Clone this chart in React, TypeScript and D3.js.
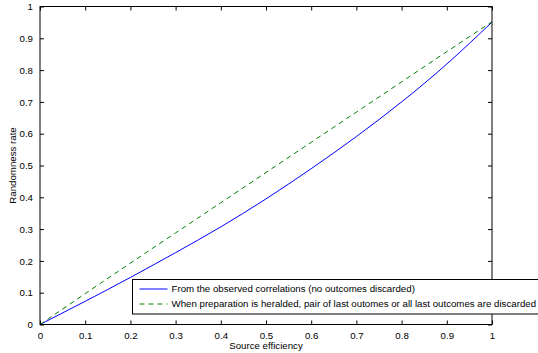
import { useEffect, useRef } from 'react';
import { select, scaleLinear, line, axisBottom, axisLeft, axisTop, axisRight, curveNatural } from 'd3';

// values
const xTicks = [0, 0.1, 0.2, 0.3, 0.4, 0.5, 0.6, 0.7, 0.8, 0.9, 1];
const yTicks = [0, 0.1, 0.2, 0.3, 0.4, 0.5, 0.6, 0.7, 0.8, 0.9, 1];
const efficiency = [0, 0.1, 0.2, 0.3, 0.4, 0.5, 0.6, 0.7, 0.8, 0.9, 1];
const observedRate = [0, 0.073, 0.148, 0.226, 0.307, 0.395, 0.49, 0.591, 0.7, 0.819, 0.951];
const heraldedRate = [0, 0.097, 0.193, 0.288, 0.383, 0.478, 0.573, 0.668, 0.763, 0.858, 0.952];
const seriesNames = [
  'From the observed correlations (no outcomes discarded)',
  'When preparation is heralded, pair of last outomes or all last outcomes are discarded',
];

const W = 538;
const H = 353;
const margin = { top: 6.5, right: 46, left: 40, bottom: 28.5 };
const font = 'Liberation Sans, Arial, sans-serif';
const fs = 9.7;

export default function App() {
  const svgRef = useRef<SVGSVGElement>(null);

  useEffect(() => {
    if (!svgRef.current) return;
    const svg = select(svgRef.current);
    svg.selectAll('*').remove();

    const x = scaleLinear().domain([0, 1]).range([margin.left, W - margin.right]);
    const y = scaleLinear().domain([0, 1]).range([H - margin.bottom, margin.top]);
    const x0 = margin.left;
    const x1 = W - margin.right;
    const y0 = H - margin.bottom;
    const y1 = margin.top;

    svg.append('rect').attr('width', W).attr('height', H).attr('fill', '#fff');

    // curves
    const pts = (vals: number[]) => efficiency.map((e, i) => [e, vals[i]] as [number, number]);
    const gen = line<[number, number]>()
      .x((d) => x(d[0]))
      .y((d) => y(d[1]))
      .curve(curveNatural);

    svg.append('path')
      .attr('d', gen(pts(observedRate)))
      .attr('fill', 'none')
      .attr('stroke', '#0000ff')
      .attr('stroke-width', 1);
    svg.append('path')
      .attr('d', gen(pts(heraldedRate)))
      .attr('fill', 'none')
      .attr('stroke', '#008000')
      .attr('stroke-width', 1)
      .attr('stroke-dasharray', '5 4');

    // box axes, inward ticks
    const styleAxis = (g: any, labels: boolean) => {
      g.select('.domain').remove();
      g.selectAll('line').attr('stroke', '#000');
      g.selectAll('text')
        .attr('font-family', font)
        .attr('font-size', fs)
        .attr('fill', '#000');
      if (!labels) g.selectAll('text').remove();
    };
    const bottom = svg.append('g').attr('transform', `translate(0,${y0})`)
      .call(axisBottom(x).tickValues(xTicks).tickSize(-4).tickPadding(8).tickFormat((d) => String(d)));
    styleAxis(bottom, true);
    const left = svg.append('g').attr('transform', `translate(${x0},0)`)
      .call(axisLeft(y).tickValues(yTicks).tickSize(-4).tickPadding(7).tickFormat((d) => String(d)));
    styleAxis(left, true);
    const top = svg.append('g').attr('transform', `translate(0,${y1})`)
      .call(axisTop(x).tickValues(xTicks).tickSize(-4));
    styleAxis(top, false);
    const right = svg.append('g').attr('transform', `translate(${x1},0)`)
      .call(axisRight(y).tickValues(yTicks).tickSize(-4));
    styleAxis(right, false);

    svg.append('rect')
      .attr('x', x0).attr('y', y1)
      .attr('width', x1 - x0).attr('height', y0 - y1)
      .attr('fill', 'none').attr('stroke', '#000').attr('stroke-width', 1);

    // axis titles
    svg.append('text')
      .attr('x', (x0 + x1) / 2).attr('y', 349)
      .attr('text-anchor', 'middle')
      .attr('font-family', font).attr('font-size', fs)
      .text('Source efficiency');
    svg.append('text')
      .attr('transform', `translate(16,${(y0 + y1) / 2}) rotate(-90)`)
      .attr('text-anchor', 'middle')
      .attr('font-family', font).attr('font-size', fs)
      .text('Randomness rate');

    // legend (runs off the right edge, as in the reference)
    const lg = svg.append('g').attr('transform', 'translate(132.5,279.5)');
    lg.append('rect')
      .attr('width', 460).attr('height', 34.5)
      .attr('fill', '#fff').attr('stroke', '#000').attr('stroke-width', 1);
    const rows = [
      { color: '#0000ff', dash: null, yy: 9.5 },
      { color: '#008000', dash: '5 4', yy: 24.5 },
    ];
    rows.forEach((r, i) => {
      lg.append('line')
        .attr('x1', 7).attr('x2', 35).attr('y1', r.yy).attr('y2', r.yy)
        .attr('stroke', r.color).attr('stroke-width', 1)
        .attr('stroke-dasharray', r.dash);
      lg.append('text')
        .attr('x', 39).attr('y', r.yy + 3.4)
        .attr('font-family', font).attr('font-size', fs)
        .text(seriesNames[i]);
    });
  }, []);

  return (
    <div style={{ position: 'fixed', left: 0, top: 0 }}>
      <svg ref={svgRef} width={W} height={H} />
    </div>
  );
}
